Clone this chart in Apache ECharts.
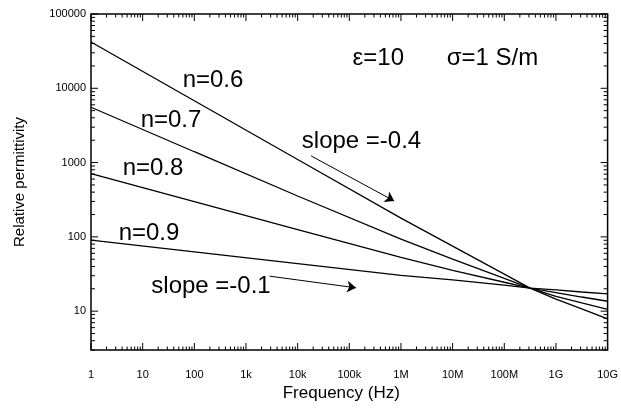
<!DOCTYPE html>
<html>
<head>
<meta charset="utf-8">
<script src="https://cdn.jsdelivr.net/npm/echarts@6/dist/echarts.min.js"></script>
<style>
html, body { margin: 0; padding: 0; background: #fff; }
#chart { width: 621px; height: 413px; }
</style>
</head>
<body>
<div id="chart"></div>
<script>
// frequency points (Hz) and relative permittivity
var freq = [1, 1e2, 1e4, 1e6, 1e7, 1e8, 3.16e8, 1e9, 3.16e9, 1e10];
var eps_n06 = [42000, 6800, 1100, 179, 75, 31.5, 20.4, 14.5, 10.7, 7.85];
var eps_n07 = [5560, 1400, 355, 93, 50, 27.7, 20.4, 15.8, 12.9, 10.6];
var eps_n08 = [708, 298, 125, 53, 35.5, 24.5, 20.4, 17.8, 15.5, 13.6];
var eps_n09 = [90.6, 63, 43.7, 30.4, 26.3, 22.4, 20.4, 19.3, 18.1, 17.1];

var xTicks = [1, 10, 100, 1e3, 1e4, 1e5, 1e6, 1e7, 1e8, 1e9, 1e10];
var xTickLabels = ['1', '10', '100', '1k', '10k', '100k', '1M', '10M', '100M', '1G', '10G'];
var yTicks = [10, 100, 1000, 10000, 100000];
var yTickLabels = ['10', '100', '1000', '10000', '100000'];

var xMin = 1, xMax = 1e10, yMin = 3, yMax = 100000;

// slope arrows: [start, end] in data coords
var arrow04 = [[1.82e4, 1230], [7.4e5, 304]];
var arrow01 = [[2860, 29.6], [1.35e5, 20.6]];

var FONT = 'Liberation Sans, Arial, Helvetica, sans-serif';

function pairs(xs, ys) {
    var out = [];
    for (var i = 0; i < xs.length; i++) out.push([xs[i], ys[i]]);
    return out;
}

function labelFor(ticks, labels, v) {
    for (var i = 0; i < ticks.length; i++) {
        if (Math.abs(Math.log10(ticks[i]) - Math.log10(v)) < 1e-6) return labels[i];
    }
    return '';
}

// tick marks on all four sides: [x, y, kind(0=x,1=y), length]
var tickData = [];
xTicks.forEach(function (t, i) {
    tickData.push([t, yMin, 0, 7]);
    if (i < xTicks.length - 1) {
        for (var m = 2; m <= 9; m++) tickData.push([t * m, yMin, 0, 3.5]);
    }
});
[1].concat(yTicks).forEach(function (t) {
    if (t !== 1) tickData.push([xMin, t, 1, 7]);
    for (var m = 2; m <= 9; m++) {
        var v = t * m;
        if (v >= yMin && v <= yMax && t < yMax) tickData.push([xMin, v, 1, 4]);
    }
});

function renderTick(params, api) {
    var kind = api.value(2), len = api.value(3);
    var st = { stroke: '#000', lineWidth: 1 };
    if (kind === 0) {
        var v = api.value(0);
        var b = api.coord([v, yMin]), t = api.coord([v, yMax]);
        return { type: 'group', children: [
            { type: 'line', shape: { x1: b[0], y1: b[1], x2: b[0], y2: b[1] - len }, style: st },
            { type: 'line', shape: { x1: t[0], y1: t[1], x2: t[0], y2: t[1] + len }, style: st }
        ]};
    }
    var w = api.value(1);
    var l = api.coord([xMin, w]), r = api.coord([xMax, w]);
    return { type: 'group', children: [
        { type: 'line', shape: { x1: l[0], y1: l[1], x2: l[0] + len, y2: l[1] }, style: st },
        { type: 'line', shape: { x1: r[0], y1: r[1], x2: r[0] - len, y2: r[1] }, style: st }
    ]};
}

function curve(name, ys) {
    return {
        name: name,
        type: 'line',
        data: pairs(freq, ys),
        showSymbol: false,
        symbol: 'none',
        lineStyle: { color: '#000', width: 1.3 },
        silent: true
    };
}

var myChart = echarts.init(document.getElementById('chart'));

var n06 = curve('n=0.6', eps_n06);
n06.markLine = {
    silent: true,
    symbol: ['none', 'arrow'],
    symbolSize: 9,
    label: { show: false },
    lineStyle: { color: '#000', width: 1, type: 'solid' },
    data: [
        [{ coord: arrow04[0] }, { coord: arrow04[1] }],
        [{ coord: arrow01[0] }, { coord: arrow01[1] }]
    ]
};

function txt(s, x, y, size) {
    return {
        type: 'text', x: x, y: y, silent: true,
        style: { text: s, font: size + 'px ' + FONT, fill: '#000',
            textAlign: 'center', textVerticalAlign: 'middle', align: 'center', verticalAlign: 'middle' }
    };
}

option = {
    animation: false,
    backgroundColor: '#fff',
    grid: {
        left: 91, right: 12, top: 14, bottom: 63,
        show: true, borderColor: '#000', borderWidth: 1.5, backgroundColor: 'transparent'
    },
    xAxis: {
        type: 'log',
        logBase: 10,
        min: xMin,
        max: xMax,
        interval: 1,
        name: 'Frequency (Hz)',
        nameLocation: 'middle',
        nameGap: 17,
        nameTextStyle: { fontFamily: FONT, fontSize: 17, color: '#000', padding: [0, 16, 0, 0] },
        axisLine: { show: false },
        axisTick: { show: false },
        splitLine: { show: false },
        axisLabel: {
            interval: 0,
            margin: 19,
            fontFamily: FONT,
            fontSize: 11,
            color: '#000',
            showMinLabel: true,
            showMaxLabel: true,
            formatter: function (v) { return labelFor(xTicks, xTickLabels, v); }
        }
    },
    yAxis: {
        type: 'log',
        logBase: 10,
        min: yMin,
        max: yMax,
        name: 'Relative permittivity',
        nameLocation: 'middle',
        nameGap: 64,
        nameTextStyle: { fontFamily: FONT, fontSize: 15, color: '#000' },
        axisLine: { show: false },
        axisTick: { show: false },
        splitLine: { show: false },
        axisLabel: {
            margin: 5,
            fontFamily: FONT,
            fontSize: 11,
            color: '#000',
            formatter: function (v) { return labelFor(yTicks, yTickLabels, v); }
        }
    },
    series: [
        n06,
        curve('n=0.7', eps_n07),
        curve('n=0.8', eps_n08),
        curve('n=0.9', eps_n09),
        {
            type: 'custom',
            renderItem: renderTick,
            data: tickData,
            silent: true,
            clip: false,
            z: 5
        }
    ],
    graphic: [
        txt('n=0.6', 213, 80.5, 24),
        txt('n=0.7', 171, 120, 24),
        txt('n=0.8', 153, 168.7, 24),
        txt('n=0.9', 149, 233.3, 24),
        txt('slope =-0.4', 361.5, 141, 24),
        txt('slope =-0.1', 211, 286, 24),
        txt('\u03b5=10', 378.3, 58.3, 24),
        txt('\u03c3=1 S/m', 492.5, 58.3, 24)
    ]
};

myChart.setOption(option);
</script>
</body>
</html>
